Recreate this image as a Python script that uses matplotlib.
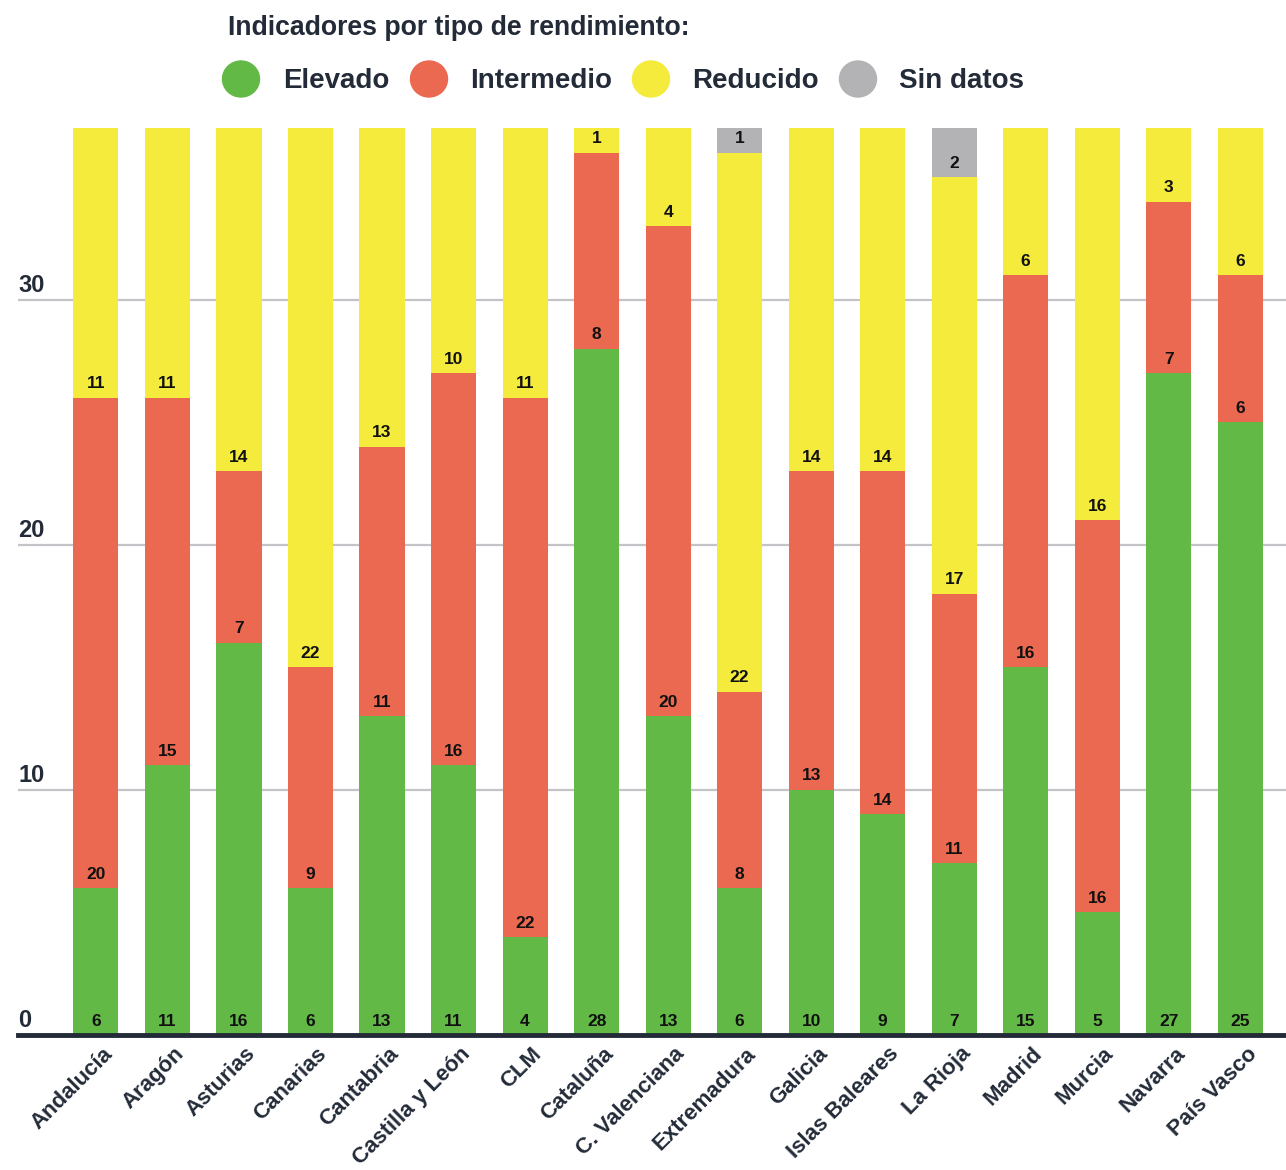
import matplotlib
matplotlib.use("Agg")
import matplotlib.pyplot as plt
import matplotlib.transforms as mtransforms
from matplotlib.patches import Ellipse
import numpy as np

categories = ["Andalucía", "Aragón", "Asturias", "Canarias", "Cantabria",
              "Castilla y León", "CLM", "Cataluña", "C. Valenciana", "Extremadura",
              "Galicia", "Islas Baleares", "La Rioja", "Madrid", "Murcia",
              "Navarra", "País Vasco"]
elevado = [6, 11, 16, 6, 13, 11, 4, 28, 13, 6, 10, 9, 7, 15, 5, 27, 25]
intermedio = [20, 15, 7, 9, 11, 16, 22, 8, 20, 8, 13, 14, 11, 16, 16, 7, 6]
reducido = [11, 11, 14, 22, 13, 10, 11, 1, 4, 22, 14, 14, 17, 6, 16, 3, 6]
sin_datos = [0, 0, 0, 0, 0, 0, 0, 0, 0, 1, 0, 0, 2, 0, 0, 0, 0]
series_names = ["Elevado", "Intermedio", "Reducido", "Sin datos"]
yticks = [0, 10, 20, 30]

colors = ["#62b946", "#eb6950", "#f4eb3c", "#b3b3b5"]
dark = "#232b38"
font = "Liberation Sans"

W, H = 1286, 1170
fig = plt.figure(figsize=(W / 100, H / 100), dpi=100)
ax = fig.add_axes([18 / W, (H - 1035) / H, 1 - 18 / W, (1035 - 128) / H])

x = np.arange(len(categories))
series = [elevado, intermedio, reducido, sin_datos]
bottom = np.zeros(len(categories))
for vals, col in zip(series, colors):
    vals = np.array(vals, dtype=float)
    ax.bar(x, vals, width=0.63, bottom=bottom, color=col, zorder=3, linewidth=0)
    for xi, b, v in zip(x, bottom, vals):
        if v > 0:
            ax.annotate(f"{int(v)}", (xi, b), xytext=(0, 10), textcoords="offset points",
                        ha="center", va="center", fontsize=12.5, fontweight="bold",
                        family=font, color="#111111", zorder=5)
    bottom += vals

ax.set_xlim(-1.09, len(categories) - 0.36)
ax.set_ylim(0, 37)

for s in ["top", "right", "left"]:
    ax.spines[s].set_visible(False)
ax.spines["bottom"].set_color(dark)
ax.spines["bottom"].set_linewidth(3.5)
ax.spines["bottom"].set_zorder(6)

ax.set_yticks(yticks)
ax.set_yticklabels([])
ax.tick_params(axis="y", length=0)
ax.grid(axis="y", color="#c4c4c8", linewidth=1.6, zorder=0)
ytrans = mtransforms.blended_transform_factory(ax.transAxes, ax.transData)
for t in yticks:
    ax.text(0.0, t, str(t), transform=ytrans + mtransforms.ScaledTranslation(0, 3 / 100, fig.dpi_scale_trans),
            ha="left", va="bottom", fontsize=17, fontweight="bold", family=font, color=dark)

ax.set_xticks(x)
ax.set_xticklabels(categories, rotation=45, ha="right", va="top", rotation_mode="anchor",
                   fontsize=16, fontweight="bold", family=font, color=dark)
ax.tick_params(axis="x", length=0, pad=6)
offset = mtransforms.ScaledTranslation(6 / 100, 0, fig.dpi_scale_trans)
for lab in ax.get_xticklabels():
    lab.set_transform(lab.get_transform() + offset)

# Legend overlay (pixel coordinates)
lax = fig.add_axes([0, 0, 1, 1], zorder=10)
lax.set_xlim(0, W)
lax.set_ylim(H, 0)
lax.axis("off")
lax.text(228, 28, "Indicadores por tipo de rendimiento:", ha="left", va="center",
         fontsize=19.2, fontweight="bold", family=font, color=dark)
circ_x = [241, 429, 651, 858]
text_x = [283, 470, 692, 899]
for cx, tx, name, col in zip(circ_x, text_x, series_names, colors):
    lax.add_patch(Ellipse((cx, 79), 37, 36, color=col))
    lax.text(tx, 81, name, ha="left", va="center", fontsize=20, fontweight="bold",
             family=font, color=dark)

fig.savefig("out.png", dpi=100)
